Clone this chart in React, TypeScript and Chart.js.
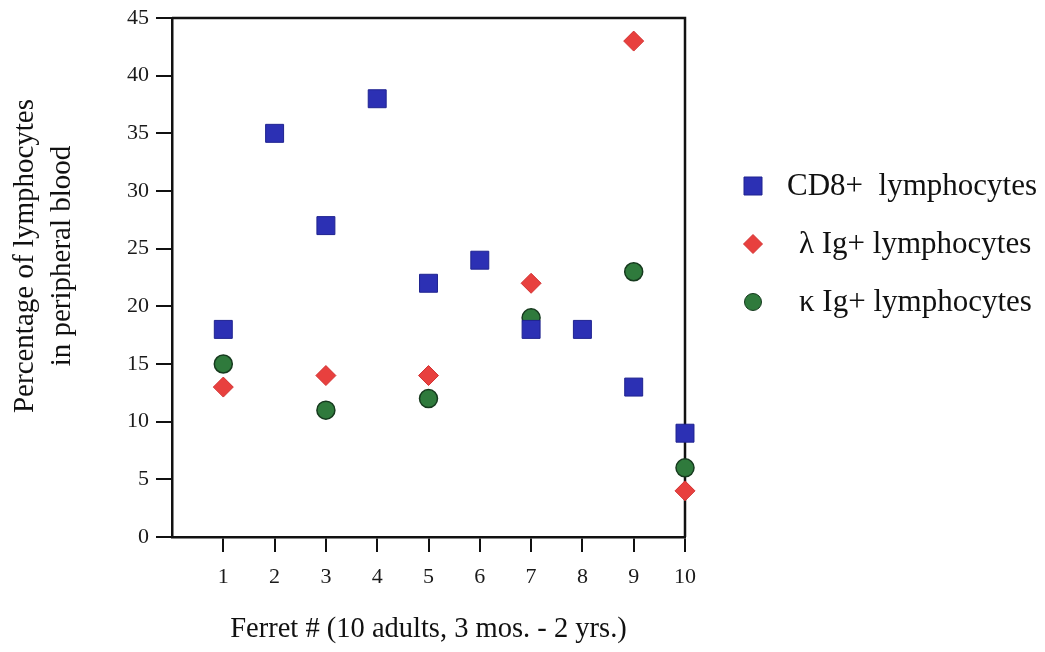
import React, { useEffect, useRef } from 'react';
import { Chart, registerables } from 'chart.js';

Chart.register(...registerables);

// ---- data ----
const ferretTicks = [1, 2, 3, 4, 5, 6, 7, 8, 9, 10];
const cd8Ferrets = [1, 2, 3, 4, 5, 6, 7, 8, 9, 10];
const cd8Values = [18, 35, 27, 38, 22, 24, 18, 18, 13, 9];
const igFerrets = [1, 3, 5, 7, 9, 10];
const lambdaValues = [13, 14, 14, 22, 43, 4];
const kappaValues = [15, 11, 12, 19, 23, 6];
const seriesLabels = ['CD8+  lymphocytes', 'λ Ig+ lymphocytes', 'κ Ig+ lymphocytes'];
const xTitle = 'Ferret # (10 adults, 3 mos. - 2 yrs.)';
const yTitle = ['Percentage of lymphocytes', 'in peripheral blood'];

const SERIF = '"Liberation Serif", "Times New Roman", serif';
const BLUE = '#2c30b4';
const BLUE_EDGE = '#1f2390';
const RED = '#e8403e';
const RED_EDGE = '#d23232';
const GREEN = '#2f7a3c';
const GREEN_EDGE = '#163a1e';

const toPoints = (xs: number[], ys: number[]) => xs.map((x, i) => ({ x, y: ys[i] }));

const framePlugin = {
  id: 'frame',
  beforeDatasetsDraw(chart: any) {
    const { ctx, chartArea } = chart;
    ctx.save();
    ctx.strokeStyle = '#111';
    ctx.lineWidth = 2.5;
    ctx.beginPath();
    ctx.moveTo(chartArea.left, chartArea.top);
    ctx.lineTo(chartArea.right, chartArea.top);
    ctx.lineTo(chartArea.right, chartArea.bottom);
    ctx.stroke();
    ctx.restore();
  },
};

const yTitlePlugin = {
  id: 'yTitle',
  afterDraw(chart: any) {
    const { ctx } = chart;
    const lineX = [25, 62];
    const centerY = 256;
    ctx.save();
    ctx.fillStyle = '#111';
    ctx.font = `29px ${SERIF}`;
    ctx.textAlign = 'center';
    ctx.textBaseline = 'middle';
    yTitle.forEach((t, i) => {
      ctx.save();
      ctx.translate(lineX[i], centerY);
      ctx.rotate(-Math.PI / 2);
      ctx.fillText(t, 0, 0);
      ctx.restore();
    });
    ctx.restore();
  },
};

const legendPlugin = {
  id: 'sideLegend',
  afterDraw(chart: any) {
    const { ctx } = chart;
    const ds = chart.data.datasets;
    const markerX = 753;
    const textX = [787, 799, 799];
    const rowY = [186, 244, 302];
    ctx.save();
    ds.forEach((d: any, i: number) => {
      const y = rowY[i];
      ctx.fillStyle = d.backgroundColor;
      ctx.strokeStyle = d.borderColor;
      ctx.lineWidth = 1;
      ctx.beginPath();
      if (d.pointStyle === 'rect') {
        ctx.rect(markerX - 9, y - 9, 18, 18);
      } else if (d.pointStyle === 'rectRot') {
        ctx.moveTo(markerX - 9.5, y);
        ctx.lineTo(markerX, y - 9.5);
        ctx.lineTo(markerX + 9.5, y);
        ctx.lineTo(markerX, y + 9.5);
        ctx.closePath();
      } else {
        ctx.arc(markerX, y, 8.5, 0, Math.PI * 2);
      }
      ctx.fill();
      ctx.stroke();
      ctx.fillStyle = '#111';
      ctx.font = `31px ${SERIF}`;
      ctx.textAlign = 'left';
      ctx.textBaseline = 'middle';
      ctx.fillText(d.label, textX[i], y + 1);
    });
    ctx.restore();
  },
};

export default function App() {
  const ref = useRef<HTMLCanvasElement | null>(null);

  useEffect(() => {
    if (!ref.current) return;
    const chart = new Chart(ref.current, {
      type: 'scatter',
      data: {
        datasets: [
          {
            label: seriesLabels[0],
            data: toPoints(cd8Ferrets, cd8Values),
            pointStyle: 'rect',
            pointRadius: 12.7,
            backgroundColor: BLUE,
            borderColor: BLUE_EDGE,
            borderWidth: 1,
            clip: false,
          },
          {
            label: seriesLabels[1],
            data: toPoints(igFerrets, lambdaValues),
            pointStyle: 'rectRot',
            pointRadius: 10,
            backgroundColor: RED,
            borderColor: RED_EDGE,
            borderWidth: 1,
            clip: false,
          },
          {
            label: seriesLabels[2],
            data: toPoints(igFerrets, kappaValues),
            pointStyle: 'circle',
            pointRadius: 9,
            backgroundColor: GREEN,
            borderColor: GREEN_EDGE,
            borderWidth: 1.5,
            clip: false,
          },
        ] as any,
      },
      options: {
        animation: false,
        responsive: false,
        events: [],
        layout: { padding: { left: 0, right: 360, top: 18, bottom: 0 } },
        plugins: {
          legend: { display: false },
          tooltip: { enabled: false },
        },
        scales: {
          x: {
            type: 'linear',
            min: 0,
            max: 10,
            afterBuildTicks: (scale: any) => {
              scale.ticks = ferretTicks.map((v) => ({ value: v }));
            },
            afterFit: (scale: any) => {
              scale.height = 115;
            },
            ticks: {
              autoSkip: false,
              maxRotation: 0,
              padding: 12,
              color: '#1a1a1a',
              font: { family: SERIF, size: 22 },
            },
            grid: {
              display: true,
              drawOnChartArea: false,
              drawTicks: true,
              tickLength: 15,
              color: '#111',
              lineWidth: 2,
            },
            border: { display: true, color: '#111', width: 2.5 },
            title: {
              display: true,
              text: xTitle,
              color: '#111',
              font: { family: SERIF, size: 28.5, lineHeight: 1.3 },
              padding: { top: 0, bottom: 4 },
            },
          },
          y: {
            type: 'linear',
            min: 0,
            max: 45,
            afterFit: (scale: any) => {
              scale.width = 172;
              scale.paddingTop = 0;
              scale.paddingBottom = 0;
            },
            ticks: {
              stepSize: 5,
              padding: 7,
              color: '#1a1a1a',
              font: { family: SERIF, size: 22, lineHeight: 1 },
            },
            grid: {
              display: true,
              drawOnChartArea: false,
              drawTicks: true,
              tickLength: 16,
              color: '#111',
              lineWidth: 2,
            },
            border: { display: true, color: '#111', width: 2.5 },
            title: { display: false },
          },
        },
      } as any,
      plugins: [framePlugin, yTitlePlugin, legendPlugin],
    });
    return () => chart.destroy();
  }, []);

  return (
    <canvas
      ref={ref}
      width={1045}
      height={652}
      style={{ position: 'fixed', left: 0, top: 0, display: 'block', background: '#fff' }}
    />
  );
}
